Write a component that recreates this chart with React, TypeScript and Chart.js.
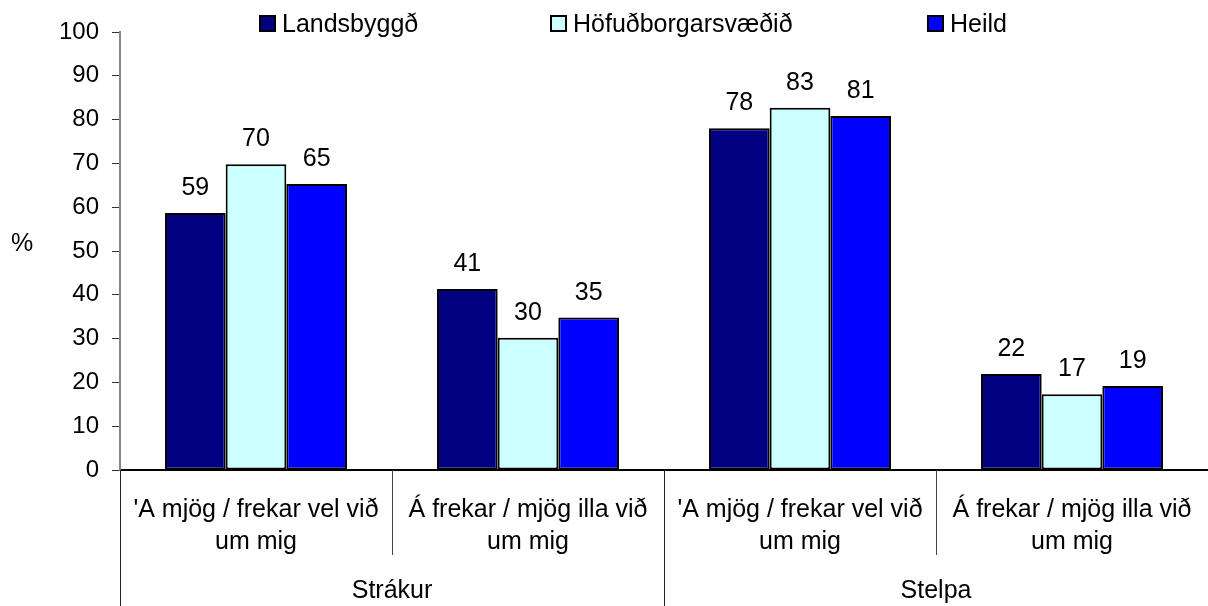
import React, { useEffect, useRef } from "react";
import { Chart, registerables } from "chart.js";

Chart.register(...registerables);

const categories: string[][] = [
  ["'A mjög / frekar vel við", "um mig"],
  ["Á frekar / mjög illa við", "um mig"],
  ["'A mjög / frekar vel við", "um mig"],
  ["Á frekar / mjög illa við", "um mig"],
];
const groups: string[] = ["Strákur", "Stelpa"];
const seriesNames: string[] = ["Landsbyggð", "Höfuðborgarsvæðið", "Heild"];
const landsbyggd: number[] = [58.7, 41.3, 78.0, 21.9];
const hofudborgarsvaedid: number[] = [69.8, 30.2, 82.7, 17.3];
const heild: number[] = [65.3, 34.8, 80.8, 19.2];
const yTitle = "%";

const COLORS = ["#000080", "#CCFFFF", "#0000FF"];
const FONT = "'Liberation Sans', Arial, sans-serif";
const LEGEND_X = [259, 550, 927];

const overlay = {
  id: "overlay",
  afterDraw(chart: any) {
    const ctx = chart.ctx;
    const x = chart.scales.x;
    const area = chart.chartArea;
    ctx.save();
    ctx.fillStyle = "#000";
    ctx.font = `25px ${FONT}`;
    // data labels
    chart.data.datasets.forEach((ds: any, di: number) => {
      const meta = chart.getDatasetMeta(di);
      meta.data.forEach((bar: any, i: number) => {
        ctx.textAlign = "center";
        ctx.textBaseline = "alphabetic";
        ctx.fillText(String(Math.round(ds.data[i])), bar.x, bar.y - 18);
      });
    });
    // legend
    seriesNames.forEach((name, i) => {
      const bx = LEGEND_X[i];
      ctx.fillStyle = COLORS[i];
      ctx.fillRect(bx, 15, 17, 17);
      ctx.strokeStyle = "#000";
      ctx.lineWidth = 2;
      ctx.strokeRect(bx + 1, 16, 15, 15);
      ctx.fillStyle = "#000";
      ctx.textAlign = "left";
      ctx.textBaseline = "alphabetic";
      ctx.fillText(name, bx + 23, 32);
    });
    // y title
    ctx.textAlign = "center";
    ctx.fillText(yTitle, 22, 251);
    // category labels
    const n = categories.length;
    const half = (x.getPixelForValue(1) - x.getPixelForValue(0)) / 2;
    categories.forEach((lines, i) => {
      const cx = x.getPixelForValue(i);
      lines.forEach((ln, li) => {
        ctx.textAlign = "center";
        ctx.fillText(ln, cx, 517 + li * 32);
      });
    });
    // group labels
    const per = n / groups.length;
    groups.forEach((g, gi) => {
      const start = x.getPixelForValue(gi * per) - half;
      const end = x.getPixelForValue(gi * per + per - 1) + half;
      ctx.textAlign = "center";
      ctx.fillText(g, (start + end) / 2, 598);
    });
    // separators
    ctx.lineWidth = 1;
    for (let i = 0; i <= n; i++) {
      const px = Math.round(x.getPixelForValue(i) - half) + 0.5;
      const isGroup = i % per === 0;
      ctx.strokeStyle = isGroup ? "#222" : "#444";
      ctx.beginPath();
      ctx.moveTo(px, area.bottom);
      ctx.lineTo(px, isGroup ? 606 : 555);
      ctx.stroke();
    }
    ctx.restore();
  },
};

export default function App() {
  const ref = useRef<HTMLCanvasElement>(null);
  useEffect(() => {
    document.body.style.margin = "0";
    const chart = new Chart(ref.current!, {
      type: "bar",
      data: {
        labels: categories.map((c) => c.join(" ")),
        datasets: [
          { label: seriesNames[0], data: landsbyggd, backgroundColor: COLORS[0] },
          { label: seriesNames[1], data: hofudborgarsvaedid, backgroundColor: COLORS[1] },
          { label: seriesNames[2], data: heild, backgroundColor: COLORS[2] },
        ].map((d) => ({
          ...d,
          borderColor: "#000",
          borderWidth: 2,
          borderSkipped: false,
          categoryPercentage: 0.669,
          barPercentage: 1,
        })),
      },
      options: {
        animation: false,
        responsive: false,
        layout: { padding: { top: 32, left: 0, right: 0, bottom: 0 } },
        plugins: { legend: { display: false }, tooltip: { enabled: false } },
        scales: {
          x: {
            grid: { display: false },
            border: { display: true, color: "#000", width: 2 },
            ticks: { display: false },
            afterFit: (s: any) => {
              s.height = 136;
            },
          },
          y: {
            min: 0,
            max: 100,
            ticks: {
              stepSize: 10,
              color: "#000",
              font: { family: FONT, size: 24 },
              padding: 13,
            },
            grid: {
              drawOnChartArea: false,
              drawTicks: true,
              tickLength: 8,
              color: "#333",
            },
            border: { display: true, color: "#888", width: 2 },
            afterFit: (s: any) => {
              s.width = 120;
            },
          },
        },
      },
      plugins: [overlay],
    });
    return () => chart.destroy();
  }, []);
  return (
    <div style={{ width: 1208, height: 606 }}>
      <canvas ref={ref} width={1208} height={606} style={{ display: "block" }} />
    </div>
  );
}
